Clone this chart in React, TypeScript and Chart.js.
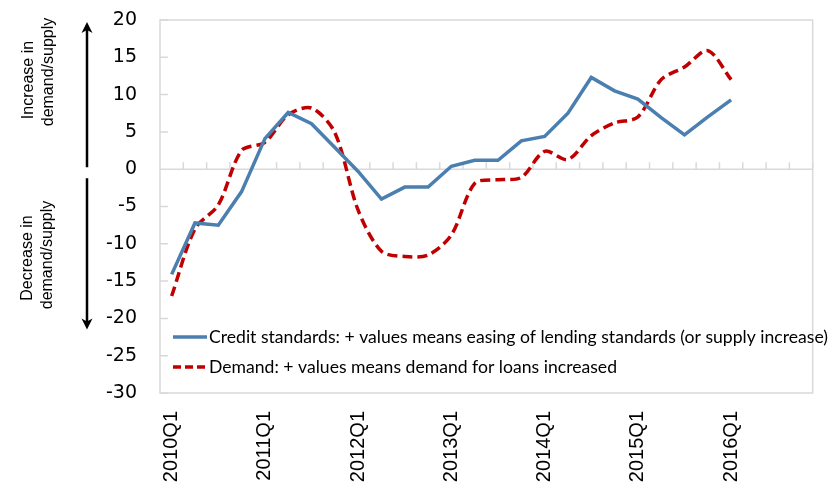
import React, { useEffect, useRef } from "react";
import { Chart, registerables } from "chart.js";

Chart.register(...registerables);

// ---- data ----
const years = [2010, 2011, 2012, 2013, 2014, 2015, 2016];
const quarters = ["Q1", "Q2", "Q3", "Q4"];
const categories: string[] = years.flatMap((yr) => quarters.map((q) => `${yr}${q}`));
const tickLabels = ["2010Q1", "2011Q1", "2012Q1", "2013Q1", "2014Q1", "2015Q1", "2016Q1"];

const creditStandards = [
  -14.1, -7.2, -7.5, -3.0, 4.1, 7.6, 6.1, 2.9, -0.3, -4.0, -2.4, -2.4, 0.4, 1.2, 1.2, 3.8,
  4.4, 7.5, 12.3, 10.5, 9.4, 6.9, 4.6, 7.0, 9.3,
];
const demand = [
  -17.0, -8.0, -4.8, 2.5, 3.6, 7.3, 8.2, 4.9, -5.5, -11.0, -11.7, -11.5, -8.8, -1.9, -1.4, -1.1,
  2.4, 1.3, 4.5, 6.2, 7.0, 12.0, 13.7, 15.9, 12.0,
];

const seriesNames = [
  "Credit standards: + values means easing of lending standards (or supply increase)",
  "Demand: + values means demand for loans increased",
];
const yMin = -30;
const yMax = 20;
const yStep = 5;

const BLUE = "#4a7fb0";
const RED = "#c00000";
const GRID = "#d9d9d9";

const decor = {
  id: "decor",
  beforeDatasetsDraw(chart: any) {
    const { ctx, chartArea: a, scales } = chart;
    const xs = scales.x;
    const ys = scales.y;
    ctx.save();
    ctx.strokeStyle = GRID;
    ctx.lineWidth = 1.5;
    ctx.strokeRect(a.left, a.top, a.right - a.left, a.bottom - a.top);
    const y0 = ys.getPixelForValue(0);
    ctx.beginPath();
    ctx.moveTo(a.left, y0);
    ctx.lineTo(a.right, y0);
    const n = chart.data.labels.length;
    const step = xs.getPixelForValue(1) - xs.getPixelForValue(0);
    for (let i = 0; i < n; i++) {
      const px = xs.getPixelForValue(i) + step / 2;
      ctx.moveTo(px, y0);
      ctx.lineTo(px, y0 - 7);
    }
    for (let v = yMin; v <= yMax; v += yStep) {
      const py = ys.getPixelForValue(v);
      ctx.moveTo(a.left, py);
      ctx.lineTo(a.left + 8, py);
    }
    ctx.stroke();
    ctx.restore();
  },
  afterDraw(chart: any) {
    const { ctx, chartArea: a, scales } = chart;
    const ys = scales.y;
    const y0 = ys.getPixelForValue(0);
    ctx.save();

    // legend
    const rows = [a.bottom - 56, a.bottom - 26];
    const maxW = [619, 408];
    chart.data.datasets.forEach((ds: any, i: number) => {
      const cy = rows[i];
      ctx.beginPath();
      ctx.strokeStyle = ds.borderColor;
      ctx.lineWidth = 3.5;
      ctx.setLineDash(i === 1 ? [8, 4] : []);
      ctx.moveTo(a.left + 13, cy);
      ctx.lineTo(a.left + 47, cy);
      ctx.stroke();
      ctx.setLineDash([]);
      ctx.fillStyle = "#000";
      ctx.font = "18px Lato";
      ctx.textBaseline = "middle";
      ctx.textAlign = "left";
      ctx.fillText(ds.label, a.left + 49, cy, maxW[i]);
    });

    // arrows
    const ax = 87;
    ctx.strokeStyle = "#000";
    ctx.fillStyle = "#000";
    ctx.lineWidth = 2.5;
    const upTip = ys.getPixelForValue(yMax) + 2;
    const downTip = ys.getPixelForValue(-21.5);
    ctx.beginPath();
    ctx.moveTo(ax, y0 - 2);
    ctx.lineTo(ax, upTip + 4);
    ctx.moveTo(ax, y0 + 9);
    ctx.lineTo(ax, downTip - 4);
    ctx.stroke();
    ctx.beginPath();
    ctx.moveTo(ax, upTip);
    ctx.lineTo(ax - 5.5, upTip + 11);
    ctx.lineTo(ax, upTip + 8);
    ctx.lineTo(ax + 5.5, upTip + 11);
    ctx.closePath();
    ctx.fill();
    ctx.beginPath();
    ctx.moveTo(ax, downTip);
    ctx.lineTo(ax - 5.5, downTip - 11);
    ctx.lineTo(ax, downTip - 8);
    ctx.lineTo(ax + 5.5, downTip - 11);
    ctx.closePath();
    ctx.fill();

    // side annotations
    const note = (text: string, bx: number, cy: number) => {
      ctx.save();
      ctx.translate(bx, cy);
      ctx.rotate(-Math.PI / 2);
      ctx.font = "16px 'Liberation Sans'";
      ctx.textAlign = "center";
      ctx.textBaseline = "alphabetic";
      ctx.fillStyle = "#000";
      ctx.fillText(text, 0, 0);
      ctx.restore();
    };
    note("Increase in", 33, 80);
    note("demand/supply", 53, 72);
    note("Decrease in", 32, 258);
    note("demand/supply", 52, 255);
    ctx.restore();
  },
};

export default function App() {
  const ref = useRef<HTMLCanvasElement | null>(null);
  useEffect(() => {
    if (!ref.current) return;
    const chart = new Chart(ref.current, {
      type: "line",
      data: {
        labels: categories,
        datasets: [
          {
            label: seriesNames[0],
            data: creditStandards,
            borderColor: BLUE,
            backgroundColor: BLUE,
            borderWidth: 3.5,
            pointRadius: 0,
            tension: 0,
          },
          {
            label: seriesNames[1],
            data: demand,
            borderColor: RED,
            backgroundColor: RED,
            borderWidth: 3.5,
            borderDash: [10, 5],
            pointRadius: 0,
            tension: 0.3,
          },
        ],
      },
      options: {
        responsive: false,
        animation: false,
        devicePixelRatio: 1,
        layout: { padding: { top: 20, right: 19.3, left: 0, bottom: 0 } },
        plugins: { legend: { display: false }, tooltip: { enabled: false } },
        scales: {
          x: {
            type: "category",
            offset: true,
            grid: { display: false, drawTicks: true, tickLength: 18 },
            border: { display: false },
            ticks: {
              autoSkip: false,
              minRotation: 90,
              maxRotation: 90,
              padding: 0,
              color: "#000",
              font: { family: "'Liberation Sans'", size: 20 },
              callback: (_v: any, i: number) =>
                tickLabels.includes(categories[i]) ? categories[i] : "",
            },
            afterFit: (s: any) => {
              s.height = 94;
            },
          },
          y: {
            min: yMin,
            max: yMax,
            grid: { display: false, drawTicks: true, tickLength: 23 },
            border: { display: false },
            ticks: {
              stepSize: yStep,
              padding: 0,
              color: "#000",
              font: { family: "'DejaVu Sans'", size: 19 },
            },
            afterFit: (s: any) => {
              s.width = 160;
            },
          },
        },
      },
      plugins: [decor],
    });
    return () => chart.destroy();
  }, []);
  return (
    <div style={{ position: "fixed", left: 0, top: 0, width: 832, height: 487, background: "#fff" }}>
      <canvas ref={ref} width={832} height={487} style={{ display: "block" }} />
    </div>
  );
}
